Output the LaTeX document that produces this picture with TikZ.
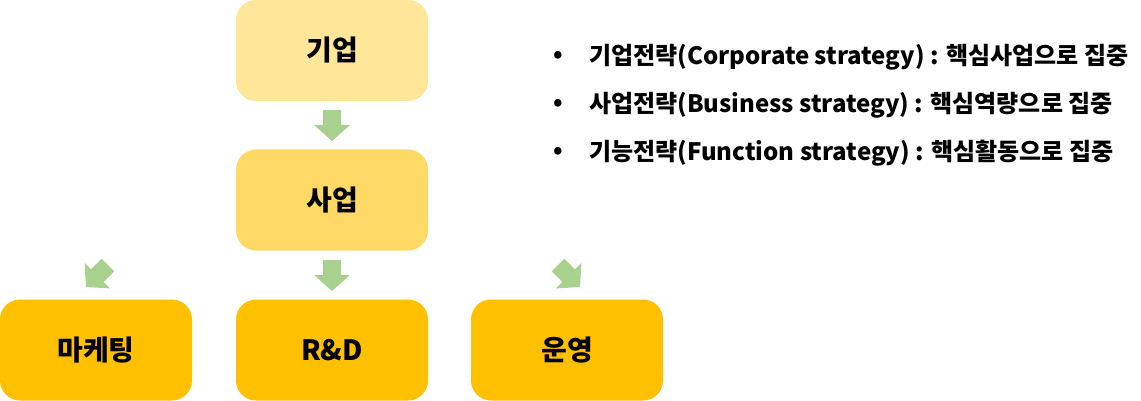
\documentclass[tikz,border=0pt]{standalone}
\usepackage{fontspec}
\newfontfamily\kr{Noto Sans CJK KR}
\definecolor{c1}{HTML}{FFE699}
\definecolor{c2}{HTML}{FFD966}
\definecolor{c3}{HTML}{FFC000}
\definecolor{ar}{HTML}{A9D18E}
\tikzset{
  box/.style={rounded corners=20pt, minimum width=192pt, minimum height=101pt, inner sep=0pt,
    font=\kr\bfseries\fontsize{28}{32}\selectfont, text=black},
  bul/.style={anchor=west, inner sep=0pt, font=\kr\bfseries\fontsize{24}{28}\selectfont},
  pics/blockarrow/.style={code={
    \fill[ar] (0,0) -- (18,-16) -- (9,-16) -- (9,-31) -- (-9,-31) -- (-9,-16) -- (-18,-16) -- cycle;
  }}
}
\begin{document}
\begin{tikzpicture}[x=1pt,y=-1pt]
\useasboundingbox (0,0) rectangle (1141,401);
\node[box, fill=c1] (corp) at (332,50.5) {기업};
\node[box, fill=c2] (bus) at (332,200) {사업};
\node[box, fill=c3] (mkt) at (96,350) {마케팅};
\node[box, fill=c3] (rnd) at (332,350) {R\&D};
\node[box, fill=c3] (ops) at (567,350) {운영};
\coordinate (a1) at (332,141);
\coordinate (a2) at (332,291);
\coordinate (a3) at (86,287);
\coordinate (a4) at (580,287);
\pic at (a1) {blockarrow};
\pic at (a2) {blockarrow};
\pic[rotate=-45] at (a3) {blockarrow};
\pic[rotate=45] at (a4) {blockarrow};
\foreach \y/\t [count=\i] in {57/기업전략(Corporate strategy) : 핵심사업으로 집중,
  105/사업전략(Business strategy) : 핵심역량으로 집중,
  153/기능전략(Function strategy) : 핵심활동으로 집중}{
  \node[bul] (d\i) at (553,\y) {•};
  \node[bul] (t\i) at (589,\y) {\t};
}
\end{tikzpicture}
\end{document}
